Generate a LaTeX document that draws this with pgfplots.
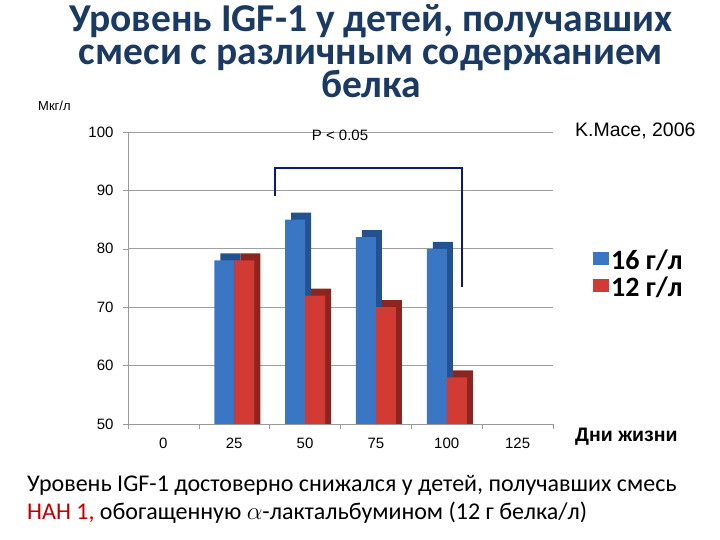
\documentclass[border=0pt]{standalone}
\usepackage{fontspec}
\setmainfont{Carlito}
\newfontfamily\arial{Liberation Sans}
\usepackage{pgfplots}
\pgfplotsset{compat=1.18}
\definecolor{bblue}{HTML}{3A76C4}
\definecolor{bbluedark}{HTML}{24528F}
\definecolor{rred}{HTML}{D23A34}
\definecolor{rreddark}{HTML}{8C2520}
\definecolor{navy}{HTML}{0A1A78}
\definecolor{titleblue}{HTML}{1B3A63}
\definecolor{nahred}{HTML}{C00000}
\newcommand\titlefont{\bfseries\fontsize{39.5}{33}\selectfont\lineskiplimit=-60pt\relax}
\begin{document}
\begin{tikzpicture}[x=1pt,y=1pt]
\path[use as bounding box] (0,0) rectangle (720,540);
\node[font=\titlefont, text=titleblue, align=center, anchor=base, inner sep=0pt] at (371,442)
  {Уровень IGF-1 у детей, получавших\\смеси с различным содержанием\\белка};
\node[font=\arial\fontsize{13}{14}\selectfont, anchor=base west, inner sep=0pt] at (38,429) {Мкг/л};
\node[font=\arial\fontsize{19.5}{20}\selectfont, anchor=base west, inner sep=0pt] at (575,403) {K.Mace, 2006};
\node[font=\arial\bfseries\fontsize{19.5}{20}\selectfont, anchor=base west, inner sep=0pt] at (575,98) {Дни жизни};
\node[font=\fontsize{24}{28}\selectfont, anchor=base west, inner sep=0pt] at (27,48) {Уровень IGF-1 достоверно снижался у детей, получавших смесь};
\node[font=\fontsize{24}{28}\selectfont, anchor=base west, inner sep=0pt] at (27,20) {\textcolor{nahred}{НАН 1,} обогащенную $\alpha$-лактальбумином (12 г белка/л)};
\begin{axis}[
  at={(128pt,116pt)}, anchor=south west,
  scale only axis, width=425pt, height=292pt,
  ymin=50, ymax=100, xmin=-0.5, xmax=5.5,
  ytick={50,60,...,100},
  xtick={0,...,5}, xticklabels={0,25,50,75,100,125},
  minor xtick={-0.5,0.5,...,5.5},
  major x tick style={draw=none},
  minor tick length=5pt,
  major tick length=5pt,
  tick align=outside,
  ymajorgrids, grid style={gray!75, line width=0.8pt},
  axis x line*=bottom, axis y line*=left,
  axis line style={gray!80, line width=0.8pt},
  every tick/.style={gray!80},
  /pgf/number format/assume math mode=true,
  tick label style={font=\arial\fontsize{15}{16}\selectfont},
  yticklabel style={xshift=-6pt},
  xticklabel style={yshift=-5pt, text height=11pt, text depth=0pt},
  legend style={at={(1.087,0.515)}, anchor=west, draw=none, fill=none,
    font=\bfseries\fontsize{28}{30}\selectfont, row sep=2pt,
    /tikz/every even column/.append style={column sep=2pt}},
  legend cell align=left,
  legend image code/.code={\fill[#1, draw=none] (0pt,-5pt) rectangle (16pt,8pt);},
]
\addplot[ybar, bar width=20pt, bar shift=-4pt, fill=bbluedark, draw=none, forget plot]
  coordinates {(1,79.2) (2,86.2) (3,83.2) (4,81.2)};
\addplot[ybar, bar width=20pt, bar shift=-10pt, fill=bblue, draw=none]
  coordinates {(1,78) (2,85) (3,82) (4,80)};
\addlegendentry{16 г/л}
\addplot[ybar, bar width=20pt, bar shift=16pt, fill=rreddark, draw=none, forget plot]
  coordinates {(1,79.2) (2,73.2) (3,71.2) (4,59.2)};
\addplot[ybar, bar width=20pt, bar shift=10pt, fill=rred, draw=none]
  coordinates {(1,78) (2,72) (3,70) (4,58)};
\addlegendentry{12 г/л}
\addplot[navy, line width=2pt, sharp plot, mark=none, forget plot]
  coordinates {(1.58,89) (1.58,93.8) (4.21,93.8) (4.21,73.5)};
\end{axis}
\node[font=\arial\fontsize{15}{16}\selectfont] at (340,405) {P < 0.05};
\end{tikzpicture}
\end{document}
